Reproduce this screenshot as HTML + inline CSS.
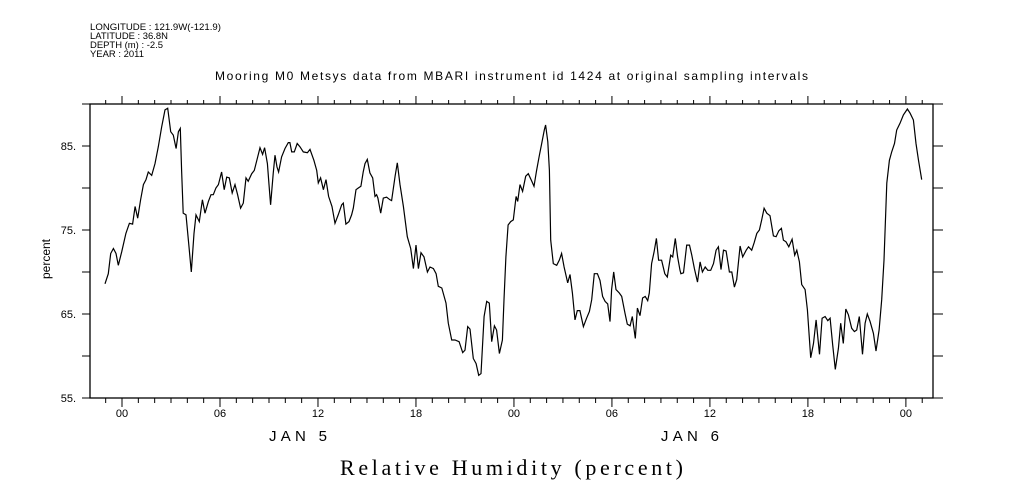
<!DOCTYPE html>
<html><head><meta charset="utf-8"><style>
body{margin:0;background:#fff}
svg{display:block;font-family:"Liberation Sans",sans-serif}
</style></head><body>
<svg id="chart" width="1009" height="504" viewBox="0 0 1009 504">
<g font-size="9" fill="#000">
<text x="90" y="30" textLength="131" lengthAdjust="spacingAndGlyphs">LONGITUDE : 121.9W(-121.9)</text>
<text x="90" y="39" textLength="78" lengthAdjust="spacingAndGlyphs">LATITUDE : 36.8N</text>
<text x="90" y="48" textLength="73" lengthAdjust="spacingAndGlyphs">DEPTH (m) : -2.5</text>
<text x="90" y="57" textLength="54" lengthAdjust="spacingAndGlyphs">YEAR : 2011</text>
</g>
<text x="215" y="80" font-size="12" textLength="593" lengthAdjust="spacing">Mooring M0 Metsys data from MBARI instrument id 1424 at original sampling intervals</text>
<text transform="translate(50,259) rotate(-90)" font-size="12" text-anchor="middle">percent</text>
<text x="340" y="475" font-size="22" textLength="343" lengthAdjust="spacing" font-family="Liberation Serif,serif">Relative Humidity (percent)</text>
<rect x="90" y="104" width="843" height="294" fill="none" stroke="#000" stroke-width="1.3"/>
<g id="axes"></g>
<path id="line" fill="none" stroke="#000" stroke-width="1.2"/>
</svg>
<script>
const hours=[-1.04,-0.84,-0.69,-0.53,-0.37,-0.23,-0.02,0.24,0.45,0.65,0.80,0.96,1.14,1.31,1.47,1.61,1.82,2.02,2.22,2.43,2.63,2.80,2.98,3.14,3.31,3.45,3.57,3.65,3.75,3.92,4.10,4.24,4.41,4.53,4.73,4.92,5.08,5.29,5.45,5.59,5.75,5.90,6.10,6.26,6.41,6.57,6.75,6.92,7.08,7.26,7.43,7.59,7.73,7.94,8.10,8.31,8.45,8.61,8.73,8.90,9.00,9.10,9.26,9.37,9.49,9.59,9.77,9.98,10.18,10.28,10.39,10.55,10.73,10.90,11.10,11.35,11.51,11.75,11.92,12.02,12.16,12.33,12.49,12.65,12.86,13.04,13.24,13.45,13.55,13.71,13.90,14.06,14.16,14.33,14.47,14.63,14.77,14.88,15.02,15.18,15.35,15.49,15.59,15.67,15.84,16.00,16.20,16.41,
16.51,16.72,16.86,17.02,17.23,17.47,17.68,17.84,18.00,18.15,18.31,18.49,18.70,18.86,19.07,19.23,19.37,19.58,19.84,19.98,20.19,20.39,20.64,20.86,21.00,21.17,21.31,21.51,21.68,21.84,21.98,22.17,22.33,22.49,22.64,22.80,22.94,23.11,23.29,23.39,23.51,23.64,23.80,23.96,24.13,24.23,24.37,24.53,24.72,24.88,25.09,25.23,25.39,25.56,25.70,25.86,25.94,26.07,26.17,26.25,26.41,26.62,26.78,26.92,27.07,27.19,27.29,27.43,27.58,27.74,27.88,28.04,28.25,28.45,28.62,28.76,28.92,29.11,29.27,29.43,29.58,29.74,29.88,29.98,30.11,30.25,30.45,30.60,30.80,30.94,31.11,31.25,31.43,31.56,31.72,31.88,32.04,32.19,32.29,32.43,32.58,32.72,32.86,33.04,33.24,33.39,33.60,33.72,33.88,34.02,34.17,
34.22,34.38,34.58,34.75,34.89,35.05,35.24,35.40,35.54,35.71,35.87,36.05,36.22,36.38,36.52,36.68,36.83,36.99,37.19,37.34,37.50,37.64,37.85,38.01,38.22,38.36,38.56,38.71,38.87,39.03,39.17,39.32,39.48,39.68,39.89,40.05,40.22,40.38,40.50,40.66,40.83,41.03,41.19,41.32,41.48,41.62,41.83,41.97,42.17,42.34,42.50,42.71,42.87,43.05,43.22,43.36,43.52,43.68,43.87,44.01,44.17,44.32,44.48,44.68,44.85,44.99,45.15,45.34,45.50,45.64,45.81,46.01,46.17,46.36,46.52,46.66,46.83,46.99,47.13,47.30,47.44,47.64,47.85,48.09,48.26,48.46,48.62,48.77,48.97];
const humidity=[68.6,69.8,72.2,72.8,72.2,70.8,72.4,74.6,75.8,75.7,77.8,76.4,78.6,80.4,81.0,81.9,81.5,82.9,84.9,87.3,89.3,89.5,86.7,86.3,84.7,86.7,87.1,82.1,77.0,76.8,73.0,70.0,74.6,76.8,76.0,78.6,77.0,78.4,79.2,79.2,80.0,80.4,81.9,79.8,81.3,81.2,79.4,80.4,79.2,77.6,78.2,81.2,80.8,81.7,82.1,83.7,84.8,84.0,84.8,82.9,80.4,78.0,81.7,83.9,82.5,81.9,83.7,84.7,85.4,85.4,84.3,84.3,85.3,84.9,84.3,84.2,84.6,83.3,82.1,80.6,81.2,79.8,81.0,79.0,77.8,75.8,76.8,78.0,78.2,75.7,76.0,76.8,77.6,79.8,80.0,80.2,81.9,82.9,83.4,81.8,81.2,79.0,79.2,78.8,77.0,78.8,78.9,78.6,
78.5,81.4,83.0,80.4,77.8,74.2,72.8,70.4,73.2,70.4,72.3,71.8,70.0,70.6,70.4,69.8,68.3,68.1,66.3,63.9,61.9,61.9,61.7,60.4,60.7,63.5,63.2,59.7,59.1,57.7,57.9,64.7,66.5,66.3,61.7,63.6,63.1,60.3,61.9,66.7,71.8,75.6,76.0,76.2,79.0,78.4,80.4,79.6,81.4,81.7,80.8,80.2,82.1,83.9,85.3,86.9,87.5,85.5,82.1,73.8,71.0,70.8,71.4,72.2,70.6,69.6,68.7,69.7,67.5,64.3,65.4,65.4,63.5,64.5,65.3,66.7,69.8,69.8,69.0,67.1,66.5,66.2,64.1,67.9,70.0,67.9,67.5,67.1,65.1,63.8,63.6,64.7,62.1,65.7,64.8,66.9,67.1,66.6,67.5,71.0,72.4,74.0,71.4,71.4,69.8,69.4,72.0,71.8,74.0,71.8,70.2,
69.8,69.9,73.2,73.2,72.0,70.4,68.8,71.2,70.0,70.6,70.2,70.2,71.0,72.6,73.0,70.3,72.6,72.5,70.0,70.0,68.2,69.1,73.1,71.8,72.6,73.0,72.6,73.5,74.6,75.0,76.2,77.6,77.0,76.7,74.3,74.2,74.9,75.2,73.8,73.6,73.0,73.9,72.0,72.6,71.2,68.5,67.9,65.5,59.8,61.5,64.3,60.2,64.5,64.7,64.2,64.5,61.3,58.4,60.9,63.9,61.5,65.6,64.9,63.3,62.9,63.1,64.7,60.2,63.9,65.0,64.1,62.7,60.6,63.1,66.7,71.4,80.6,83.3,84.3,85.3,86.9,87.7,88.7,89.4,88.9,88.1,85.3,83.3,81.0];
const yTickLabels=["55.","65.","75.","85."];
const yTickValues=[55,65,75,85];
const xTickLabels=["00","06","12","18","00","06","12","18","00"];
const xTickHours=[0,6,12,18,24,30,36,42,48];
const dayLabels=["JAN  5","JAN  6"];
const dayHours=[12,36];

const X0=90,X1=933,Y0=398,Y1=104,HMIN=-1.96,HMAX=49.66,VMIN=55,VMAX=90;
const xs=h=>X0+(h-HMIN)/(HMAX-HMIN)*(X1-X0);
const ys=v=>Y0-(v-VMIN)/(VMAX-VMIN)*(Y0-Y1);
const NS="http://www.w3.org/2000/svg";
const axes=document.getElementById('axes');
function mk(tag,attrs,txt){const e=document.createElementNS(NS,tag);for(const k in attrs)e.setAttribute(k,attrs[k]);if(txt!==undefined)e.textContent=txt;axes.appendChild(e);return e;}
for(let h=-1;h<=49;h++){
  const x=xs(h);const major=(h%6===0);
  const t=mk('line',{x1:x,x2:x,y1:Y1,y2:Y1-(major?8:4),stroke:'#000'});
  
  
  const b=mk('line',{x1:x,x2:x,y1:Y0,y2:Y0+(major?9:5),stroke:'#000'});
  
  
}
xTickLabels.forEach((l,i)=>{
  const t=mk('text',{x:xs(xTickHours[i]),y:417,'font-size':11,'text-anchor':'middle'},l);
  
  
});
dayLabels.forEach((l,i)=>{
  const t=mk('text',{x:xs(dayHours[i])-49,y:441,'font-size':15,textLength:58,lengthAdjust:'spacing','xml:space':'preserve'},l);
  
  
});
for(let v=55;v<=90;v+=5){
  const y=ys(v);
  const l=mk('line',{x1:X0-8,x2:X0,y1:y,y2:y,stroke:'#000'});
  
  
  const r=mk('line',{x1:X1,x2:X1+10,y1:y,y2:y,stroke:'#000'});
  
  
}
yTickLabels.forEach((l,i)=>{
  const t=mk('text',{x:76,y:ys(yTickValues[i])+4,'font-size':11,'text-anchor':'end'},l);
  
  
});
document.getElementById('line').setAttribute('d',hours.map((h,i)=>(i?'L':'M')+xs(h).toFixed(1)+','+ys(humidity[i]).toFixed(1)).join(''));
</script>
</body></html>
